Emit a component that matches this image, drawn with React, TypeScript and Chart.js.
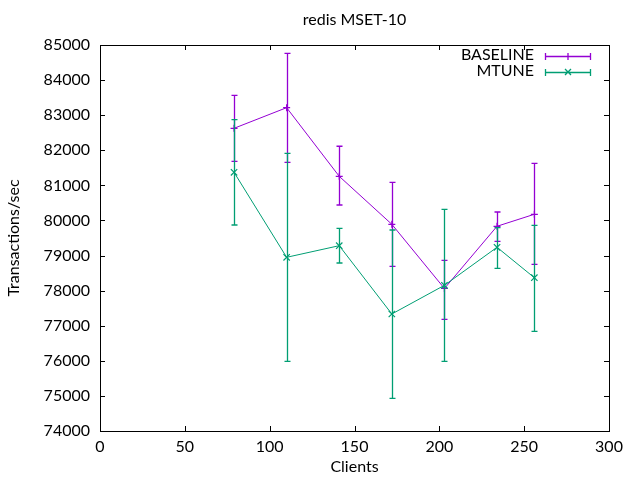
import React, { useEffect, useRef } from "react";
import { Chart, registerables } from "chart.js";

Chart.register(...registerables);

const clients = [79, 110, 141, 172, 203, 234, 256];

const baselineMean = [82626, 83214, 81258, 79891, 78061, 79834, 80176];
const baselineLow = [81686, 81657, 80441, 78694, 77183, 79406, 78751];
const baselineHigh = [83567, 84764, 82114, 81088, 78865, 80241, 81629];

const mtuneMean = [81372, 78950, 79281, 77334, 78152, 79235, 78369];
const mtuneLow = [79871, 75986, 78788, 74932, 75986, 78637, 76841];
const mtuneHigh = [82872, 81914, 79777, 79728, 80318, 79794, 79862];

const seriesNames = ["BASELINE", "MTUNE"];
const seriesColors = ["#9400d3", "#009e73"];
const pointStyles = ["cross", "crossRot"];

const xTicks = [0, 50, 100, 150, 200, 250, 300];
const yMin = 74000;
const yMax = 85000;
const yStep = 1000;

const chartTitle = "redis MSET-10";
const xTitle = "Clients";
const yTitle = "Transactions/sec";

const FONT = "Lato";
const FONT_SIZE = 16;

const lows = [baselineLow, mtuneLow];
const highs = [baselineHigh, mtuneHigh];

const gnuplotPlugin = {
  id: "gnuplotDeco",
  afterDatasetDraw(chart: any, args: any) {
    const i = args.index;
    const ctx = chart.ctx;
    const xs = chart.scales.x;
    const ys = chart.scales.y;
    ctx.save();
    ctx.strokeStyle = seriesColors[i];
    ctx.lineWidth = 1.3;
    const cap = 3;
    clients.forEach((c, k) => {
      const px = Math.round(xs.getPixelForValue(c)) + 0.5;
      const pl = ys.getPixelForValue(lows[i][k]);
      const ph = ys.getPixelForValue(highs[i][k]);
      ctx.beginPath();
      ctx.moveTo(px, pl);
      ctx.lineTo(px, ph);
      ctx.moveTo(px - cap, pl);
      ctx.lineTo(px + cap, pl);
      ctx.moveTo(px - cap, ph);
      ctx.lineTo(px + cap, ph);
      ctx.stroke();
    });
    ctx.restore();
  },
  afterDraw(chart: any) {
    const ctx = chart.ctx;
    const a = chart.chartArea;
    const xs = chart.scales.x;
    const ys = chart.scales.y;
    ctx.save();
    ctx.strokeStyle = "#000";
    ctx.lineWidth = 1;
    const tl = 5;
    ctx.beginPath();
    xTicks.forEach((t) => {
      const px = Math.round(xs.getPixelForValue(t)) + 0.5;
      ctx.moveTo(px, a.bottom);
      ctx.lineTo(px, a.bottom - tl);
      ctx.moveTo(px, a.top);
      ctx.lineTo(px, a.top + tl);
    });
    for (let v = yMin; v <= yMax; v += yStep) {
      const py = Math.round(ys.getPixelForValue(v)) + 0.5;
      ctx.moveTo(a.left, py);
      ctx.lineTo(a.left + tl, py);
      ctx.moveTo(a.right, py);
      ctx.lineTo(a.right - tl, py);
    }
    ctx.stroke();
    ctx.strokeRect(
      Math.round(a.left) + 0.5,
      Math.round(a.top) + 0.5,
      Math.round(a.right - a.left),
      Math.round(a.bottom - a.top)
    );

    // title
    ctx.fillStyle = "#000";
    ctx.font = `${FONT_SIZE}px ${FONT}`;
    ctx.textAlign = "center";
    ctx.textBaseline = "middle";
    ctx.fillText(chartTitle, (a.left + a.right) / 2, 20);

    // legend
    const textRight = 534;
    const lx0 = 545;
    const lx1 = 590;
    const rows = [56, 72];
    seriesNames.forEach((name, i) => {
      const y = rows[i];
      ctx.fillStyle = "#000";
      ctx.textAlign = "right";
      ctx.textBaseline = "middle";
      ctx.fillText(name, textRight, y - 1);
      ctx.strokeStyle = seriesColors[i];
      ctx.lineWidth = 1.3;
      ctx.beginPath();
      ctx.moveTo(lx0, y + 0.5);
      ctx.lineTo(lx1, y + 0.5);
      ctx.moveTo(lx0 + 0.5, y - 3);
      ctx.lineTo(lx0 + 0.5, y + 4);
      ctx.moveTo(lx1 + 0.5, y - 3);
      ctx.lineTo(lx1 + 0.5, y + 4);
      const mx = (lx0 + lx1) / 2 + 0.5;
      if (pointStyles[i] === "cross") {
        ctx.moveTo(mx, y - 3);
        ctx.lineTo(mx, y + 4);
      } else {
        ctx.moveTo(mx - 3, y - 3);
        ctx.lineTo(mx + 3, y + 3);
        ctx.moveTo(mx - 3, y + 3);
        ctx.lineTo(mx + 3, y - 3);
      }
      ctx.stroke();
    });
    ctx.restore();
  },
};

export default function App() {
  const ref = useRef<HTMLCanvasElement | null>(null);

  useEffect(() => {
    if (!ref.current) return;
    const mk = (vals: number[]) => clients.map((c, k) => ({ x: c, y: vals[k] }));
    const chart = new Chart(ref.current, {
      type: "line",
      data: {
        datasets: [
          {
            label: seriesNames[0],
            data: mk(baselineMean),
            borderColor: seriesColors[0],
            backgroundColor: seriesColors[0],
            borderWidth: 1,
            pointStyle: pointStyles[0] as any,
            pointRadius: 3.5,
            pointBorderWidth: 1.2,
            fill: false,
            tension: 0,
            order: 1,
          },
          {
            label: seriesNames[1],
            data: mk(mtuneMean),
            borderColor: seriesColors[1],
            backgroundColor: seriesColors[1],
            borderWidth: 1,
            pointStyle: pointStyles[1] as any,
            pointRadius: 4.5,
            pointBorderWidth: 1.2,
            fill: false,
            tension: 0,
            order: 0,
          },
        ],
      },
      options: {
        animation: false,
        responsive: false,
        devicePixelRatio: 1,
        layout: { padding: { top: 45, right: 31, left: 0, bottom: 0 } },
        plugins: {
          legend: { display: false },
          title: { display: false },
          tooltip: { enabled: false },
        },
        scales: {
          x: {
            type: "linear",
            min: 0,
            max: 300,
            afterBuildTicks: (s: any) => {
              s.ticks = xTicks.map((v) => ({ value: v }));
            },
            afterFit: (s: any) => {
              s.height = 49;
            },
            grid: { display: false, drawTicks: false },
            border: { display: false },
            ticks: {
              color: "#000",
              padding: 6,
              maxRotation: 0,
              font: { family: FONT, size: FONT_SIZE },
            },
            title: {
              display: true,
              text: xTitle,
              color: "#000",
              font: { family: FONT, size: FONT_SIZE },
            },
          },
          y: {
            type: "linear",
            min: yMin,
            max: yMax,
            afterFit: (s: any) => {
              s.width = 100;
            },
            grid: { display: false, drawTicks: false },
            border: { display: false },
            ticks: {
              stepSize: yStep,
              color: "#000",
              padding: 10,
              font: { family: FONT, size: FONT_SIZE },
              callback: (v: any) => String(v),
            },
            title: {
              display: true,
              text: yTitle,
              color: "#000",
              font: { family: FONT, size: FONT_SIZE },
            },
          },
        },
      },
      plugins: [gnuplotPlugin],
    });
    return () => chart.destroy();
  }, []);

  return (
    <div style={{ position: "absolute", left: 0, top: 0, width: 640, height: 480, background: "#fff" }}>
      <canvas ref={ref} width={640} height={480} />
    </div>
  );
}
